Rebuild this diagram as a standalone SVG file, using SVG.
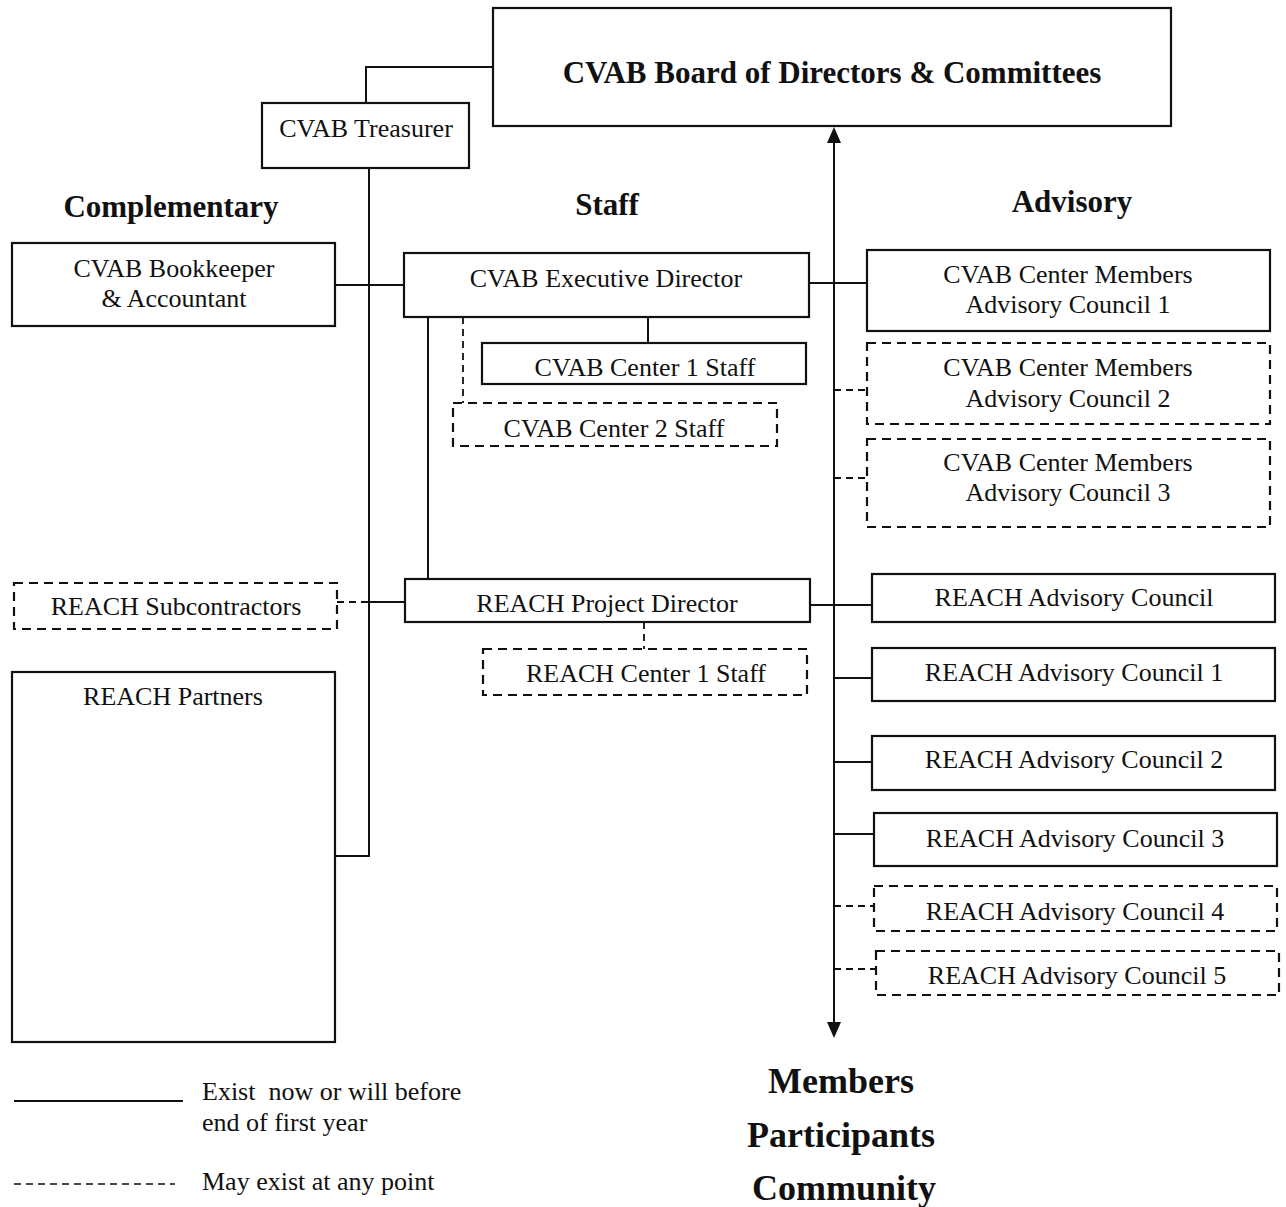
<svg xmlns="http://www.w3.org/2000/svg" width="1286" height="1207" viewBox="0 0 1286 1207">
<style>
  .box{fill:#fff;stroke:#111;stroke-width:2.2}
  .dbox{fill:#fff;stroke:#111;stroke-width:2.2;stroke-dasharray:9 6}
  .ln{fill:none;stroke:#111;stroke-width:2}
  .dln{fill:none;stroke:#111;stroke-width:1.8;stroke-dasharray:7 5}
  text{font-family:"Liberation Serif","Times New Roman",serif;fill:#111}
  .t{font-size:26px;text-anchor:middle}
  .h{font-size:31px;font-weight:bold;text-anchor:middle}
  .b{font-size:36px;font-weight:bold;text-anchor:middle}
  .lg{font-size:26px}
</style>
<defs>
  <marker id="arr" viewBox="0 0 10 10" refX="10" refY="5" markerWidth="8" markerHeight="8" markerUnits="userSpaceOnUse" orient="auto-start-reverse">
    <path d="M0,0 L10,5 L0,10 Z" fill="#111"/>
  </marker>
</defs>
<g id="connectors">
  <polyline class="ln" points="366,103 366,67 493,67"/>
  <polyline class="ln" points="369,168 369,856 335,856"/>
  <line class="ln" x1="335" y1="285" x2="404" y2="285"/>
  <line class="ln" x1="809" y1="283" x2="867" y2="283"/>
  <line class="ln" x1="648" y1="317" x2="648" y2="343"/>
  <line class="dln" x1="463" y1="317" x2="463" y2="403"/>
  <line class="ln" x1="428" y1="317" x2="428" y2="579"/>
  <line class="dln" x1="834" y1="390" x2="867" y2="390"/>
  <line class="dln" x1="834" y1="478" x2="867" y2="478"/>
  <line class="dln" x1="337" y1="602" x2="369" y2="602"/>
  <line class="ln" x1="369" y1="602" x2="405" y2="602"/>
  <line class="dln" x1="644" y1="622" x2="644" y2="649"/>
  <line class="ln" x1="810" y1="605" x2="872" y2="605"/>
  <line class="ln" x1="834" y1="678" x2="872" y2="678"/>
  <line class="ln" x1="834" y1="762" x2="872" y2="762"/>
  <line class="ln" x1="834" y1="834" x2="874" y2="834"/>
  <line class="dln" x1="834" y1="906" x2="874" y2="906"/>
  <line class="dln" x1="834" y1="969" x2="876" y2="969"/>
  <line x1="834" y1="142" x2="834" y2="1024" stroke="#111" stroke-width="2"/>
  <path d="M834,127 L827,143 L841,143 Z" fill="#111"/>
  <path d="M834,1038 L827,1022 L841,1022 Z" fill="#111"/>
</g>
<g id="board">
  <rect class="box" x="493" y="8" width="678" height="118"/>
  <text class="h" x="832" y="83">CVAB Board of Directors &amp; Committees</text>
</g>
<g id="treasurer">
  <rect class="box" x="262" y="103" width="207" height="65"/>
  <text class="t" x="366" y="137">CVAB Treasurer</text>
</g>
<g id="header-complementary"><text class="h" x="171" y="217">Complementary</text></g>
<g id="header-staff"><text class="h" x="607" y="215">Staff</text></g>
<g id="header-advisory"><text class="h" x="1072" y="212">Advisory</text></g>
<g id="bookkeeper">
  <rect class="box" x="12" y="243" width="323" height="83"/>
  <text class="t" x="174" y="277">CVAB Bookkeeper</text>
  <text class="t" x="174" y="307">&amp; Accountant</text>
</g>
<g id="exec-director">
  <rect class="box" x="404" y="253" width="405" height="64"/>
  <text class="t" x="606" y="287">CVAB Executive Director</text>
</g>
<g id="center1-staff">
  <rect class="box" x="482" y="343" width="324" height="41"/>
  <text class="t" x="645" y="376">CVAB Center 1 Staff</text>
</g>
<g id="center2-staff">
  <rect class="dbox" x="453" y="403" width="324" height="43"/>
  <text class="t" x="614" y="437">CVAB Center 2 Staff</text>
</g>
<g id="cm-ac1">
  <rect class="box" x="867" y="250" width="403" height="81"/>
  <text class="t" x="1068" y="283">CVAB Center Members</text>
  <text class="t" x="1068" y="313">Advisory Council 1</text>
</g>
<g id="cm-ac2">
  <rect class="dbox" x="867" y="343" width="403" height="81"/>
  <text class="t" x="1068" y="376">CVAB Center Members</text>
  <text class="t" x="1068" y="407">Advisory Council 2</text>
</g>
<g id="cm-ac3">
  <rect class="dbox" x="867" y="439" width="403" height="88"/>
  <text class="t" x="1068" y="471">CVAB Center Members</text>
  <text class="t" x="1068" y="501">Advisory Council 3</text>
</g>
<g id="subcontractors">
  <rect class="dbox" x="14" y="583" width="323" height="46"/>
  <text class="t" x="176" y="615">REACH Subcontractors</text>
</g>
<g id="partners">
  <rect class="box" x="12" y="672" width="323" height="370"/>
  <text class="t" x="173" y="705">REACH Partners</text>
</g>
<g id="project-director">
  <rect class="box" x="405" y="579" width="405" height="43"/>
  <text class="t" x="607" y="612">REACH Project Director</text>
</g>
<g id="reach-center1-staff">
  <rect class="dbox" x="483" y="649" width="324" height="46"/>
  <text class="t" x="646" y="682">REACH Center 1 Staff</text>
</g>
<g id="reach-ac">
  <rect class="box" x="872" y="574" width="403" height="48"/>
  <text class="t" x="1074" y="606">REACH Advisory Council</text>
</g>
<g id="reach-ac1">
  <rect class="box" x="872" y="648" width="403" height="53"/>
  <text class="t" x="1074" y="681">REACH Advisory Council 1</text>
</g>
<g id="reach-ac2">
  <rect class="box" x="872" y="736" width="403" height="54"/>
  <text class="t" x="1074" y="768">REACH Advisory Council 2</text>
</g>
<g id="reach-ac3">
  <rect class="box" x="874" y="813" width="403" height="53"/>
  <text class="t" x="1075" y="847">REACH Advisory Council 3</text>
</g>
<g id="reach-ac4">
  <rect class="dbox" x="874" y="886" width="403" height="45"/>
  <text class="t" x="1075" y="920">REACH Advisory Council 4</text>
</g>
<g id="reach-ac5">
  <rect class="dbox" x="876" y="951" width="403" height="44"/>
  <text class="t" x="1077" y="984">REACH Advisory Council 5</text>
</g>
<g id="audience">
  <text class="b" x="841" y="1093">Members</text>
  <text class="b" x="841" y="1147">Participants</text>
  <text class="b" x="844" y="1200">Community</text>
</g>
<g id="legend">
  <line class="ln" x1="14" y1="1101" x2="183" y2="1101" stroke-width="1.6"/>
  <text class="lg" x="202" y="1100" xml:space="preserve">Exist  now or will before</text>
  <text class="lg" x="202" y="1131">end of first year</text>
  <line x1="14" y1="1184" x2="175" y2="1184" stroke="#111" stroke-width="1.4" stroke-dasharray="7 5"/>
  <text class="lg" x="202" y="1190">May exist at any point</text>
</g>
</svg>
